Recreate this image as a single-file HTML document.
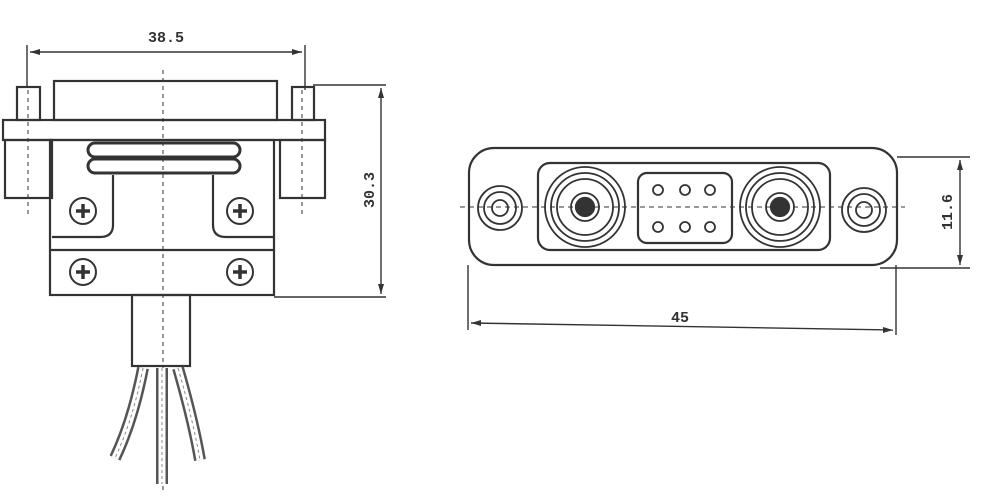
<!DOCTYPE html>
<html><head><meta charset="utf-8"><style>body{margin:0;background:#fff}svg{display:block}</style></head><body>
<svg width="1000" height="496" viewBox="0 0 1000 496" xmlns="http://www.w3.org/2000/svg" font-family="Liberation Mono, monospace" font-weight="bold">
<g fill="none" stroke="#333" stroke-width="2.2">
<line x1="27" y1="45" x2="27" y2="88" stroke-width="1.4"/>
<line x1="305" y1="45" x2="305" y2="90" stroke-width="1.4"/>
<line x1="30" y1="52" x2="302" y2="52" stroke-width="1.4"/>
<path d="M30 52 l10 -3 v6z M302 52 l-10 -3 v6z" fill="#333" stroke="none"/>
<rect x="54" y="81" width="223" height="39"/>
<rect x="17" y="87" width="23" height="33"/>
<rect x="292" y="87" width="22" height="33"/>
<rect x="3" y="120" width="322" height="20"/>
<rect x="5" y="140" width="47" height="58"/>
<rect x="280" y="140" width="45" height="58"/>
<rect x="50" y="140" width="224" height="155"/>
<rect x="88" y="143" width="152" height="14" rx="7" stroke-width="3"/>
<rect x="88" y="159" width="152" height="14" rx="7" stroke-width="3"/>
<path d="M113 175 V225 Q113 237 100 237 H52 M213 175 V225 Q213 237 226 237 H274"/>
<line x1="50" y1="250" x2="274" y2="250"/>
<g stroke-width="2">
<circle cx="83" cy="211" r="13"/><circle cx="240" cy="211" r="13"/>
<circle cx="83" cy="272" r="13"/><circle cx="240" cy="272" r="13"/>
</g>
<path d="M76 211h14M83 204v14M233 211h14M240 204v14M76 272h14M83 265v14M233 272h14M240 265v14" stroke-width="3.5"/>
<line x1="313" y1="85" x2="386" y2="85" stroke-width="1.4"/>
<line x1="274" y1="297" x2="386" y2="297" stroke-width="1.4"/>
<line x1="381" y1="88" x2="381" y2="294" stroke-width="1.4"/>
<path d="M381 88 l-3 10 h6z M381 294 l-3 -10 h6z" fill="#333" stroke="none"/>
<g stroke-width="1" stroke-dasharray="4 4">
<line x1="163" y1="70" x2="163" y2="490"/>
<line x1="28" y1="90" x2="28" y2="215"/>
<line x1="302" y1="90" x2="302" y2="215"/>
</g>
<rect x="132" y="295" width="58" height="71"/>
<g stroke-width="12" stroke="#555">
<path d="M143 368 Q133 420 115 458"/>
<path d="M178 368 Q193 420 200 460"/>
<path d="M162 368 V484"/>
</g>
<g stroke-width="7" stroke="#fff">
<path d="M143 368 Q133 420 115 458"/>
<path d="M178 368 Q193 420 200 460"/>
<path d="M162 368 V484"/>
</g>
<g stroke-width="1" stroke="#888" stroke-dasharray="3 3">
<path d="M143 368 Q133 420 115 458"/>
<path d="M178 368 Q193 420 200 460"/>
<path d="M162 368 V484"/>
</g>
<rect x="469" y="148" width="428" height="117" rx="25"/>
<rect x="538" y="163" width="292" height="87" rx="12"/>
<rect x="638" y="173" width="94" height="70" rx="9"/>
<g stroke-width="1.8">
<circle cx="500" cy="208" r="22"/><circle cx="500" cy="208" r="16"/><circle cx="500" cy="208" r="8"/>
<circle cx="864" cy="210" r="22"/><circle cx="864" cy="210" r="16"/><circle cx="864" cy="210" r="8"/>
<circle cx="585" cy="207" r="40"/><circle cx="585" cy="207" r="34"/><circle cx="585" cy="207" r="28"/><circle cx="585" cy="207" r="14"/>
<circle cx="780" cy="207" r="40"/><circle cx="780" cy="207" r="34"/><circle cx="780" cy="207" r="28"/><circle cx="780" cy="207" r="14"/>
<circle cx="658" cy="190" r="5"/><circle cx="685" cy="190" r="5"/><circle cx="710" cy="190" r="5"/>
<circle cx="658" cy="227" r="5"/><circle cx="685" cy="227" r="5"/><circle cx="710" cy="227" r="5"/>
</g>
<circle cx="585" cy="207" r="9" fill="#333"/><circle cx="780" cy="207" r="9" fill="#333"/>
<line x1="460" y1="207" x2="905" y2="207" stroke-width="1" stroke-dasharray="5 4"/>
<line x1="897" y1="157" x2="970" y2="157" stroke-width="1.4"/>
<line x1="880" y1="268" x2="970" y2="268" stroke-width="1.4"/>
<line x1="960" y1="160" x2="960" y2="265" stroke-width="1.4"/>
<path d="M960 160 l-3 10 h6z M960 265 l-3 -10 h6z" fill="#333" stroke="none"/>
<line x1="468" y1="265" x2="468" y2="330" stroke-width="1.4"/>
<line x1="896" y1="265" x2="896" y2="335" stroke-width="1.4"/>
<line x1="471" y1="323" x2="893" y2="330" stroke-width="1.4"/>
<path d="M471 323 l10 -3 v6z M893 330 l-10 -3 v6z" fill="#333" stroke="none"/>
</g>
<g fill="#333" font-size="15">
<text x="166" y="42" text-anchor="middle">38.5</text>
<text x="680" y="322" text-anchor="middle">45</text>
<text transform="translate(374,190) rotate(-90)" text-anchor="middle">30.3</text>
<text transform="translate(952,212) rotate(-90)" text-anchor="middle">11.6</text>
</g>
</svg>
</body></html>
